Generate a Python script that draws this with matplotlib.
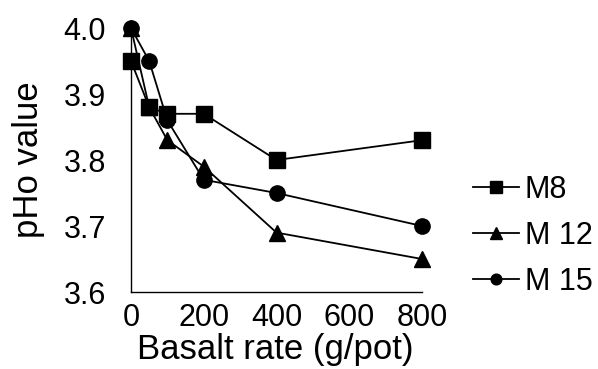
import matplotlib
matplotlib.use("Agg")
import matplotlib.pyplot as plt

plt.rcParams['font.family'] = ['Liberation Sans', 'DejaVu Sans']

rates = [0, 50, 100, 200, 400, 800]
m8 = [3.95, 3.88, 3.87, 3.87, 3.80, 3.83]
m12 = [4.00, 3.88, 3.83, 3.79, 3.69, 3.65]
m15 = [4.00, 3.95, 3.86, 3.77, 3.75, 3.70]
series_labels = ["M8", "M 12", "M 15"]
xticks = [0, 200, 400, 600, 800]
yticks = [3.6, 3.7, 3.8, 3.9, 4.0]

fig = plt.figure(figsize=(5.98, 3.69), dpi=100)
ax = fig.add_axes([131/598, 1-292/369, (422-131)/598, (292-28)/369])

h1, = ax.plot(rates, m8, '-s', color='black', lw=1.3, ms=11.5, clip_on=False, zorder=3)
h2, = ax.plot(rates, m12, '-^', color='black', lw=1.3, ms=12, clip_on=False, zorder=3)
h3, = ax.plot(rates, m15, '-o', color='black', lw=1.3, ms=11, clip_on=False, zorder=3)

ax.set_xlim(0, 800)
ax.set_ylim(3.6, 4.0)
ax.set_xticks(xticks)
ax.set_yticks(yticks)
ax.set_yticklabels([f"{v:.1f}" for v in yticks])
ax.tick_params(length=0, labelsize=22)
ax.tick_params(axis='y', pad=18)
ax.tick_params(axis='x', pad=8)
for s in ['top', 'right']:
    ax.spines[s].set_visible(False)
for s in ['left', 'bottom']:
    ax.spines[s].set_linewidth(1.0)
ax.set_xlabel("Basalt rate (g/pot)", fontsize=25)
ax.xaxis.set_label_coords(0.495, -0.155)
ax.set_ylabel("pHo value", fontsize=25)
ax.yaxis.set_label_coords(-0.296, 0.5)

fig.legend([h1, h2, h3], series_labels, loc='center left',
           bbox_to_anchor=(473/598, 1-236/369), frameon=False,
           fontsize=22, markerscale=0.7, handlelength=1.5,
           handletextpad=0.2, labelspacing=0.52, borderaxespad=0,
           borderpad=0)

fig.savefig("out.png", dpi=100, facecolor='white')
